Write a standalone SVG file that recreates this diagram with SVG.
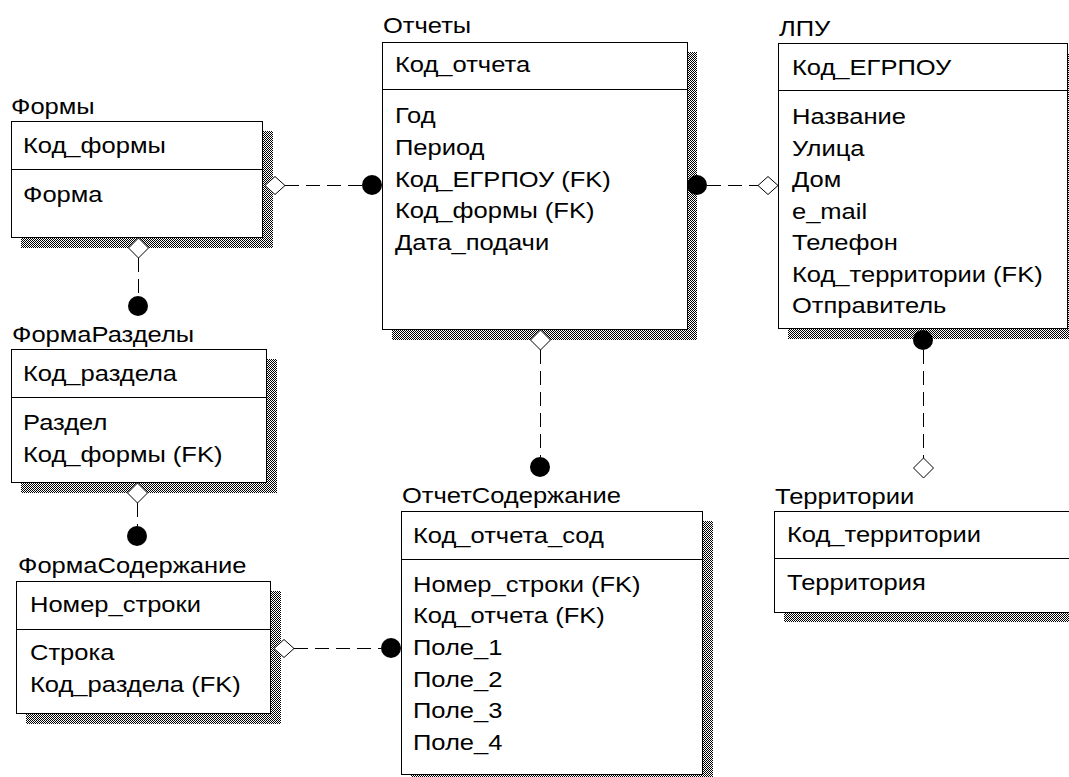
<svg xmlns="http://www.w3.org/2000/svg" width="1069" height="777" viewBox="0 0 1069 777">
<defs>
<pattern id="dither" width="2" height="2" patternUnits="userSpaceOnUse">
<rect width="2" height="2" fill="#fff"/>
<rect x="0" y="0" width="1" height="1" fill="#000"/>
<rect x="1" y="1" width="1" height="1" fill="#000"/>
</pattern>
</defs>
<style>
text{font-family:"Liberation Sans",Arial,sans-serif;font-size:22px;fill:#000;transform-box:fill-box;transform-origin:0 0;transform:scaleX(1.16)}
.box{fill:#fff;stroke:#000;stroke-width:1}
.shadow{fill:url(#dither);stroke:none}
.div{stroke:#000;stroke-width:1}
.rel{stroke:#000;stroke-width:1;stroke-dasharray:14 7;fill:none}
.dia{fill:#fff;stroke:#000;stroke-width:1}
.dot{fill:#000}
</style>
<rect width="1069" height="777" fill="#fff"/>

<g id="formy">
<rect class="shadow" x="21" y="131" width="252" height="117"/>
<rect class="box" x="11.5" y="121.5" width="251" height="116"/>
<line class="div" x1="11.5" y1="169.5" x2="262.5" y2="169.5"/>
<text x="11" y="114">Формы</text>
<text x="23" y="153">Код_формы</text>
<text x="23" y="202">Форма</text>
</g>

<g id="otchety">
<rect class="shadow" x="392" y="52" width="305" height="288"/>
<rect class="box" x="382.5" y="42.5" width="305" height="287"/>
<line class="div" x1="382.5" y1="89.5" x2="687.5" y2="89.5"/>
<text x="383" y="33">Отчеты</text>
<text x="395" y="72">Код_отчета</text>
<text x="395" y="123">Год</text>
<text x="395" y="155">Период</text>
<text x="395" y="187">Код_ЕГРПОУ (FK)</text>
<text x="395" y="218">Код_формы (FK)</text>
<text x="395" y="250">Дата_подачи</text>
</g>

<g id="lpu">
<rect class="shadow" x="788" y="53" width="290" height="286"/>
<rect class="box" x="778.5" y="43.5" width="289" height="285"/>
<line class="div" x1="778.5" y1="90.5" x2="1067.5" y2="90.5"/>
<text x="779" y="36">ЛПУ</text>
<text x="792" y="75">Код_ЕГРПОУ</text>
<text x="792" y="124">Название</text>
<text x="792" y="156">Улица</text>
<text x="792" y="187">Дом</text>
<text x="792" y="219">e_mail</text>
<text x="792" y="250">Телефон</text>
<text x="792" y="282">Код_территории (FK)</text>
<text x="792" y="313">Отправитель</text>
</g>

<g id="formarazdely">
<rect class="shadow" x="21" y="359" width="256" height="134"/>
<rect class="box" x="11.5" y="349.5" width="255" height="133"/>
<line class="div" x1="11.5" y1="397.5" x2="266.5" y2="397.5"/>
<text x="12" y="342">ФормаРазделы</text>
<text x="23" y="381">Код_раздела</text>
<text x="23" y="430">Раздел</text>
<text x="23" y="462">Код_формы (FK)</text>
</g>

<g id="formasoderzhanie">
<rect class="shadow" x="26" y="591" width="255" height="133"/>
<rect class="box" x="16.5" y="581.5" width="254" height="132"/>
<line class="div" x1="16.5" y1="629.5" x2="270.5" y2="629.5"/>
<text x="18" y="573">ФормаСодержание</text>
<text x="30" y="612">Номер_строки</text>
<text x="30" y="660">Строка</text>
<text x="30" y="692">Код_раздела (FK)</text>
</g>

<g id="otchetsoderzhanie">
<rect class="shadow" x="411" y="521" width="302" height="264"/>
<rect class="box" x="401.5" y="511.5" width="301" height="263"/>
<line class="div" x1="401.5" y1="559.5" x2="702.5" y2="559.5"/>
<text x="402" y="503">ОтчетСодержание</text>
<text x="413" y="543">Код_отчета_сод</text>
<text x="413" y="592">Номер_строки (FK)</text>
<text x="413" y="623">Код_отчета (FK)</text>
<text x="413" y="655">Поле_1</text>
<text x="413" y="687">Поле_2</text>
<text x="413" y="718">Поле_3</text>
<text x="413" y="750">Поле_4</text>
</g>

<g id="territorii">
<rect class="shadow" x="784" y="521" width="300" height="101"/>
<rect class="box" x="774.5" y="511.5" width="310" height="101"/>
<line class="div" x1="774.5" y1="558.5" x2="1084.5" y2="558.5"/>
<text x="775" y="504">Территории</text>
<text x="787" y="542">Код_территории</text>
<text x="787" y="590">Территория</text>
</g>

<g id="connectors">
<line class="rel" x1="285" y1="185.5" x2="362" y2="185.5"/>
<polygon class="dia" points="265,185.5 275,176.5 285,185.5 275,194.5"/>
<circle class="dot" cx="372" cy="185" r="10"/>

<line class="rel" x1="707" y1="185.5" x2="758" y2="185.5"/>
<circle class="dot" cx="697" cy="185" r="10"/>
<polygon class="dia" points="758,185.5 768,176.5 778,185.5 768,194.5"/>

<line class="rel" x1="138.5" y1="258" x2="138.5" y2="297"/>
<polygon class="dia" points="138.5,238 148.5,248 138.5,258 128.5,248"/>
<circle class="dot" cx="138" cy="306" r="10"/>

<line class="rel" x1="137.5" y1="503" x2="137.5" y2="527"/>
<polygon class="dia" points="137.5,483 147.5,493 137.5,503 127.5,493"/>
<circle class="dot" cx="137" cy="536" r="10"/>

<line class="rel" x1="294" y1="648.5" x2="381" y2="648.5"/>
<polygon class="dia" points="274,648.5 284,639.5 294,648.5 284,657.5"/>
<circle class="dot" cx="391" cy="648" r="10"/>

<line class="rel" x1="540.5" y1="350" x2="540.5" y2="457"/>
<polygon class="dia" points="540.5,330 550.5,340 540.5,350 530.5,340"/>
<circle class="dot" cx="540" cy="467" r="10"/>

<line class="rel" x1="923.5" y1="350" x2="923.5" y2="458"/>
<circle class="dot" cx="923" cy="340" r="10"/>
<polygon class="dia" points="923.5,458 933.5,468 923.5,478 913.5,468"/>
</g>
</svg>
